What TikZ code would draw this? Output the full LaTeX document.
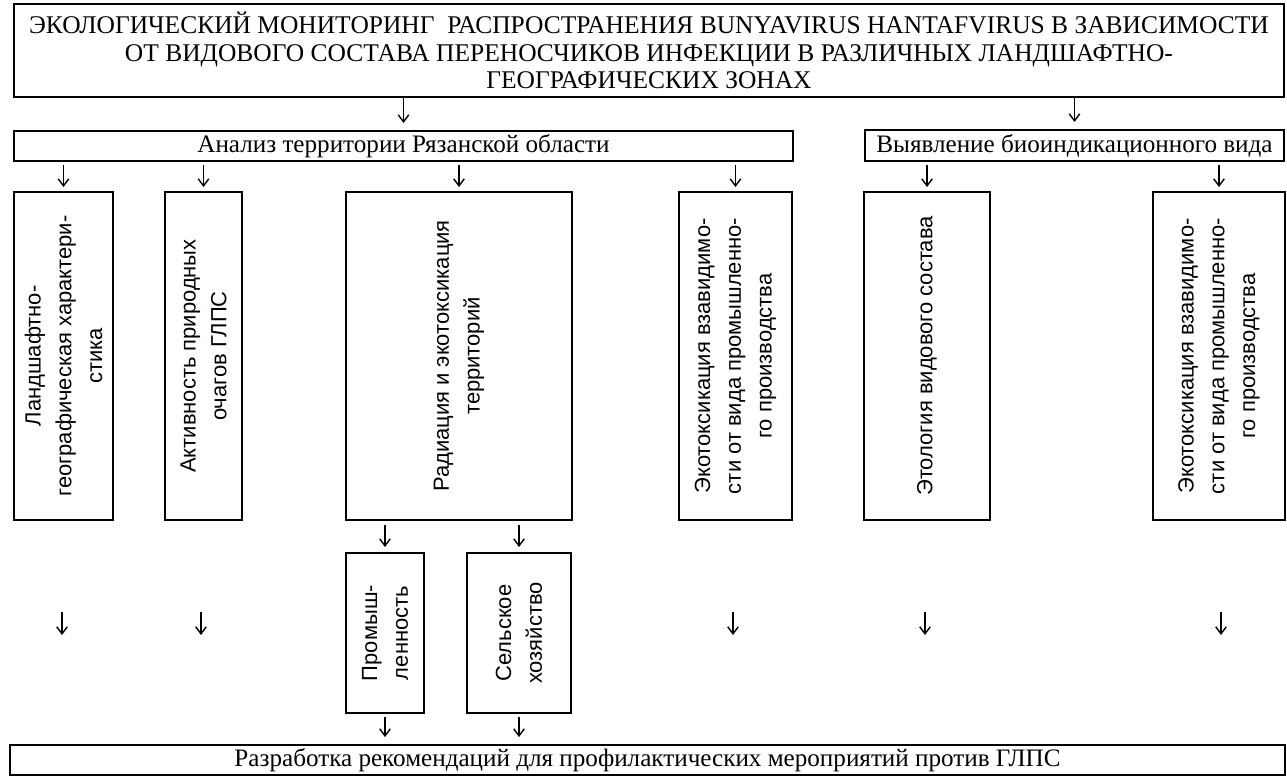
\documentclass[tikz,border=0pt]{standalone}
\usepackage{fontspec}
\setmainfont{Liberation Serif}
\setsansfont{Liberation Sans}
\usetikzlibrary{
    positioning,
    arrows.meta
}
\tikzset{%
    box/.style={%
        rectangle,
        draw,
        line width=1pt,
        inner sep = 0pt,
        outer sep = 0pt,
        align=center,
        font=\fontsize{14.3}{15.6}\selectfont
    },
    title box/.style={%
        box,
        font=\fontsize{14.5}{15.6}\selectfont
    },
    vertical box/.style={%
        box,
        rotate=90,
        font=\sffamily\fontsize{12.5}{17.5}\selectfont,
        minimum width=6.56cm
    },
    small box/.style={%
        vertical box,
        minimum width=3.2cm
    },
    arrow/.style={%
        -{Straight Barb[length=4pt,width=6pt]},
        line width=0.8pt
    },
}

\begin{document}
\begin{tikzpicture}[x=0.02cm, y=-0.02cm]
    \useasboundingbox (0,0) rectangle (1287,777);

    \node[title box, minimum width=25.4cm, minimum height=1.86cm] (title) at (649,50.5)
        {ЭКОЛОГИЧЕСКИЙ МОНИТОРИНГ\ \ РАСПРОСТРАНЕНИЯ BUNYAVIRUS HANTAFVIRUS В ЗАВИСИМОСТИ\\
         ОТ ВИДОВОГО СОСТАВА ПЕРЕНОСЧИКОВ ИНФЕКЦИИ В РАЗЛИЧНЫХ ЛАНДШАФТНО-\\
         ГЕОГРАФИЧЕСКИХ ЗОНАХ};

    \node[box, minimum width=15.58cm, minimum height=0.6cm] (analysis) at (403.5,146)
        {Анализ территории Рязанской области};
    \node[box, minimum width=8.38cm, minimum height=0.62cm] (bioind) at (1074.5,145.5)
        {Выявление биоиндикационного вида};

    \node[vertical box, minimum height=1.98cm] (landscape) at (63.5,356)
        {Ландшафтно-\\географическая характери-\\стика};
    \node[vertical box, minimum height=1.54cm] (foci) at (203.5,356)
        {Активность природных\\очагов ГЛПС};
    \node[vertical box, minimum height=4.52cm] (radiation) at (459,356)
        {Радиация и экотоксикация\\территорий};
    \node[vertical box, minimum height=2.26cm] (ecotox1) at (735.5,356)
        {Экотоксикация взавидимо-\\сти от вида промышленно-\\го производства};
    \node[vertical box, minimum height=2.52cm] (ethology) at (927,356)
        {Этология видового состава};
    \node[vertical box, minimum height=2.64cm] (ecotox2) at (1219,356)
        {Экотоксикация взавидимо-\\сти от вида промышленно-\\го производства};

    \node[small box, minimum height=1.56cm] (industry) at (385,633)
        {Промыш-\\ленность};
    \node[small box, minimum height=2.08cm] (agro) at (519,633)
        {Сельское\\хозяйство};

    \node[box, minimum width=25.5cm, minimum height=0.6cm] (advice) at (647.5,760)
        {Разработка рекомендаций для профилактических мероприятий против ГЛПС};

    % title to the two branches
    \draw[arrow, shorten <=0.02cm, shorten >=0.16cm] (title.south -| analysis.north) -- (analysis.north);
    \draw[arrow, shorten <=0.02cm, shorten >=0.16cm] (title.south -| bioind.north) -- (bioind.north);

    % branches to the columns (rotated boxes: east is the top)
    \draw[arrow, shorten <=0.08cm, shorten >=0.1cm] (analysis.south -| landscape.east) -- (landscape.east);
    \draw[arrow, shorten <=0.08cm, shorten >=0.1cm] (analysis.south -| foci.east) -- (foci.east);
    \draw[arrow, shorten <=0.08cm, shorten >=0.1cm] (analysis.south -| radiation.east) -- (radiation.east);
    \draw[arrow, shorten <=0.08cm, shorten >=0.1cm] (analysis.south -| ecotox1.east) -- (ecotox1.east);
    \draw[arrow, shorten <=0.08cm, shorten >=0.1cm] (bioind.south -| ethology.east) -- (ethology.east);
    \draw[arrow, shorten <=0.08cm, shorten >=0.1cm] (bioind.south -| ecotox2.east) -- (ecotox2.east);

    \draw[arrow, shorten <=0.1cm, shorten >=0.12cm] (radiation.west -| industry.east) -- (industry.east);
    \draw[arrow, shorten <=0.1cm, shorten >=0.12cm] (radiation.west -| agro.east) -- (agro.east);

    % loose arrows under the columns
    \foreach \x [count=\i] in {62,201,733,925,1221} {
        \coordinate (loose\i a) at (\x,612);
        \coordinate (loose\i b) at (\x,635);
        \draw[arrow] (loose\i a) -- (loose\i b);
    }

    \draw[arrow, shorten <=0.08cm, shorten >=0.16cm] (industry.west) -- (industry.west |- advice.north);
    \draw[arrow, shorten <=0.08cm, shorten >=0.16cm] (agro.west) -- (agro.west |- advice.north);
\end{tikzpicture}
\end{document}
